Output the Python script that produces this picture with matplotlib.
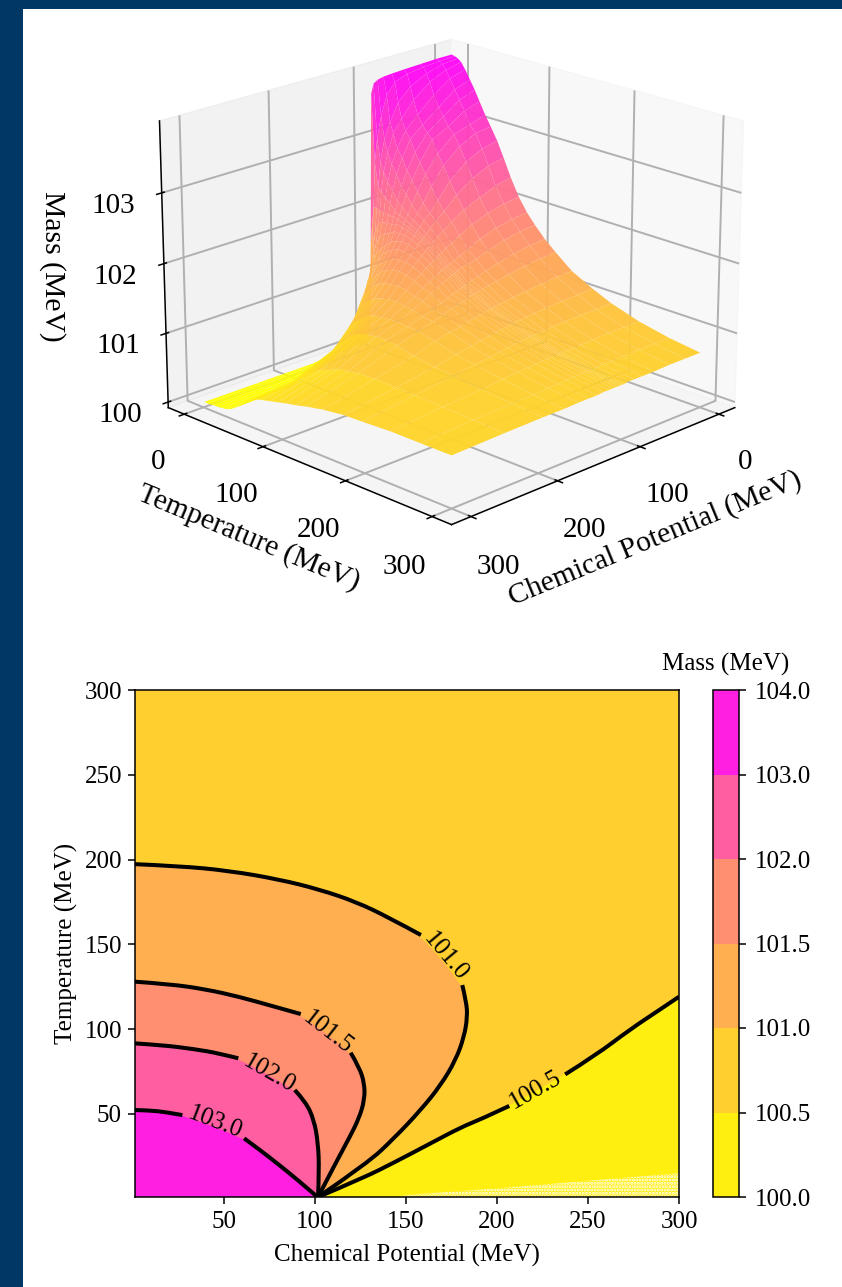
# Mass surface and contour map over chemical potential and temperature

import numpy as np
import matplotlib
matplotlib.use("Agg")
import matplotlib.pyplot as plt
from matplotlib.colors import BoundaryNorm, ListedColormap
from matplotlib.cm import ScalarMappable
from matplotlib.patches import Rectangle, PathPatch
from matplotlib.path import Path

plt.rcParams['font.family'] = ['Liberation Serif', 'DejaVu Serif']
plt.rcParams['axes.linewidth'] = 1.1
plt.rcParams['xtick.major.width'] = 1.1
plt.rcParams['ytick.major.width'] = 1.1
plt.rcParams['grid.linewidth'] = 1.4
plt.rcParams['hatch.linewidth'] = 1.5

nan = np.nan

# ---- surface table ----
grid_mu = [1, 20, 40, 60, 75, 85, 92, 97, 100, 102, 104, 107, 111, 116, 122, 130, 140, 152, 170, 195, 240, 300]
grid_T = [1, 5, 9, 13, 18, 24, 30, 36, 43, 50, 58, 66, 75, 85, 95, 105, 117, 130, 150, 175, 197, 230, 265, 300]
grid_mass = [
    [103.92, 103.92, 103.91, 103.90, 103.89, 103.88, 103.86, 103.82, 103.68, 101.50, 100.20, 100.08, 100.05, 100.04, 100.03, 100.02, 100.02, 100.01, 100.00, 100.00, 100.00, 100.00],
    [103.91, 103.90, 103.88, 103.85, 103.78, 103.63, 103.35, 103.04, 102.70, 102.05, 101.50, 101.00, 100.52, 100.38, 100.28, 100.20, 100.15, 100.10, 100.04, 100.02, 100.01, 100.00],
    [103.89, 103.87, 103.80, 103.68, 103.50, 103.25, 103.03, 102.72, 102.35, 102.05, 101.72, 101.42, 101.08, 100.78, 100.42, 100.27, 100.19, 100.14, 100.05, 100.03, 100.01, 100.00],
    [103.85, 103.80, 103.69, 103.50, 103.28, 103.10, 102.85, 102.58, 102.30, 102.03, 101.85, 101.56, 101.35, 101.10, 100.82, 100.46, 100.30, 100.21, 100.06, 100.04, 100.01, 100.01],
    [103.76, 103.69, 103.52, 103.30, 103.12, 102.90, 102.70, 102.45, 102.22, 102.02, 101.88, 101.70, 101.47, 101.25, 101.10, 100.78, 100.42, 100.30, 100.09, 100.05, 100.02, 100.01],
    [103.63, 103.55, 103.36, 103.17, 103.02, 102.78, 102.57, 102.35, 102.17, 102.01, 101.90, 101.75, 101.55, 101.38, 101.22, 101.05, 100.72, 100.42, 100.14, 100.08, 100.03, 100.02],
    [103.50, 103.42, 103.25, 103.08, 102.85, 102.62, 102.42, 102.22, 102.07, 102.00, 101.90, 101.78, 101.62, 101.50, 101.36, 101.20, 100.97, 100.65, 100.25, 100.12, 100.05, 100.03],
    [103.35, 103.28, 103.12, 103.00, 102.72, 102.50, 102.32, 102.15, 102.05, 101.99, 101.93, 101.83, 101.70, 101.57, 101.43, 101.26, 101.06, 100.82, 100.50, 100.20, 100.09, 100.06],
    [103.18, 103.10, 103.03, 102.82, 102.58, 102.36, 102.20, 102.07, 102.00, 101.95, 101.90, 101.83, 101.73, 101.62, 101.51, 101.36, 101.18, 100.97, 100.69, 100.35, 100.14, 100.12],
    [103.03, 103.00, 102.88, 102.67, 102.42, 102.22, 102.09, 102.01, 101.96, 101.92, 101.89, 101.83, 101.76, 101.66, 101.55, 101.41, 101.25, 101.05, 100.80, 100.51, 100.27, 100.20],
    [102.85, 102.80, 102.68, 102.48, 102.25, 102.10, 102.02, 101.95, 101.90, 101.87, 101.84, 101.80, 101.74, 101.66, 101.56, 101.45, 101.29, 101.12, 100.88, 100.62, 100.33, 100.28],
    [102.63, 102.58, 102.47, 102.30, 102.12, 102.02, 101.94, 101.88, 101.84, 101.82, 101.80, 101.76, 101.70, 101.64, 101.56, 101.46, 101.31, 101.15, 100.97, 100.72, 100.40, 100.34],
    [102.37, 102.32, 102.22, 102.12, 102.00, 101.91, 101.85, 101.80, 101.77, 101.75, 101.73, 101.70, 101.65, 101.60, 101.53, 101.44, 101.32, 101.18, 101.02, 100.83, 100.50, 100.37],
    [102.12, 102.09, 102.03, 101.94, 101.84, 101.77, 101.72, 101.68, 101.66, 101.64, 101.63, 101.60, 101.57, 101.53, 101.47, 101.40, 101.30, 101.19, 101.03, 100.90, 100.58, 100.40],
    [101.93, 101.90, 101.85, 101.77, 101.68, 101.62, 101.58, 101.55, 101.54, 101.53, 101.52, 101.50, 101.47, 101.44, 101.39, 101.33, 101.25, 101.17, 101.05, 100.93, 100.62, 100.43],
    [101.78, 101.76, 101.71, 101.64, 101.57, 101.54, 101.52, 101.50, 101.48, 101.47, 101.46, 101.44, 101.42, 101.39, 101.35, 101.30, 101.23, 101.15, 101.05, 100.95, 100.68, 100.46],
    [101.62, 101.60, 101.56, 101.50, 101.45, 101.41, 101.38, 101.36, 101.35, 101.34, 101.33, 101.32, 101.30, 101.28, 101.25, 101.21, 101.16, 101.10, 101.04, 100.95, 100.70, 100.49],
    [101.48, 101.46, 101.43, 101.39, 101.35, 101.33, 101.31, 101.30, 101.29, 101.28, 101.28, 101.27, 101.25, 101.23, 101.21, 101.18, 101.14, 101.09, 101.03, 100.93, 100.73, 100.53],
    [101.28, 101.27, 101.25, 101.22, 101.20, 101.18, 101.17, 101.16, 101.15, 101.15, 101.15, 101.14, 101.13, 101.12, 101.10, 101.08, 101.05, 101.02, 100.97, 100.87, 100.74, 100.58],
    [101.12, 101.11, 101.10, 101.09, 101.07, 101.06, 101.05, 101.05, 101.04, 101.04, 101.03, 101.03, 101.02, 101.01, 101.00, 100.98, 100.96, 100.93, 100.89, 100.82, 100.73, 100.62],
    [101.00, 100.99, 100.99, 100.98, 100.97, 100.96, 100.96, 100.95, 100.95, 100.95, 100.95, 100.94, 100.94, 100.93, 100.92, 100.91, 100.89, 100.87, 100.84, 100.79, 100.72, 100.63],
    [100.87, 100.87, 100.87, 100.86, 100.85, 100.85, 100.85, 100.84, 100.84, 100.84, 100.84, 100.84, 100.83, 100.83, 100.83, 100.82, 100.81, 100.80, 100.78, 100.75, 100.71, 100.65],
    [100.78, 100.78, 100.78, 100.77, 100.77, 100.77, 100.76, 100.76, 100.76, 100.76, 100.76, 100.76, 100.76, 100.75, 100.75, 100.75, 100.74, 100.73, 100.72, 100.71, 100.69, 100.65],
    [100.72, 100.72, 100.72, 100.71, 100.71, 100.71, 100.71, 100.70, 100.70, 100.70, 100.70, 100.70, 100.70, 100.70, 100.70, 100.69, 100.69, 100.69, 100.68, 100.68, 100.67, 100.65],
]

# ---- contour lines, nan marks the gap left for the label ----
c103_mu = [1, 9, 18.1, 27.3, nan, 61.2, 71.2, 80.4, 89.6, 101.5]
c103_T = [52.3, 52.1, 51.1, 49.3, nan, 35.6, 27.7, 19.9, 12, 1]

c102_mu = [1, 16.3, 34.6, 47.4, 58, nan, 89, 95, 99.6, 101.8, 102.4, 101.8]
c102_T = [91.6, 90.6, 88.1, 85.7, 82.8, nan, 64.1, 57.2, 46.4, 32.7, 16.9, 1]

c1015_mu = [1, 20, 40.1, 58.4, 76.7, 92.3, nan, 119.7, 124.3, 127.3, 127.3, 124.3, 118.8, 111.4, 101.8]
c1015_T = [128, 126.6, 123.5, 119.1, 113.6, 108.9, nan, 86.1, 77.8, 68, 58.2, 47.4, 35.6, 20.9, 1]

c101_mu = [1, 25.5, 52.9, 80.4, 102.4, 122.6, 140.9, 158.3, nan, 181, 183.2, 183.8, 182, 177.4, 169.2, 158.2, 143.5, 128.9, 101.8]
c101_T = [197.3, 196.2, 193.4, 188.3, 182.4, 175.1, 165.7, 155.5, nan, 126, 116.2, 107.3, 95.5, 81.8, 67, 52.3, 35.6, 20.9, 1]

c1005_mu = [101.8, 126.2, 144.4, 162.8, 181, 190.3, 206.8, nan, 237.5, 254.4, 272.7, 289.2, 300]
c1005_T = [1, 12, 21.8, 32.2, 42.5, 46.4, 54.7, nan, 73.3, 84.7, 99.5, 111.3, 119.1]

# where the mass falls under 100 the map is left speckled white
under_mu = [146, 150, 200, 250, 300]
under_T = [1, 2.2, 6.1, 10.6, 15]

label_text = ["103.0", "102.0", "101.5", "101.0", "100.5"]
label_mu = [45.6, 74.9, 106.9, 172, 221.4]
label_T = [44.8, 73.9, 97.9, 142.7, 64.1]
label_rot = [-21, -30, -38, -50, 29.5]

levels = [100, 100.5, 101, 101.5, 102, 103, 104]

W, H = 842, 1287
fig = plt.figure(figsize=(W/100, H/100), dpi=100, facecolor='white')

# page border
fig.add_artist(Rectangle((0, 1-9/H), 1, 9/H, transform=fig.transFigure, color='#003865', lw=0))
fig.add_artist(Rectangle((0, 0), 23/W, 1, transform=fig.transFigure, color='#003865', lw=0))

# ------ 3d surface ------
ax3 = fig.add_axes([78/W, 1-591/H, 730/W, 632/H], projection='3d')
X, Y = np.meshgrid(grid_mu, grid_T)
Z = np.array(grid_mass)
ax3.plot_surface(X, Y, Z, cmap='spring_r', vmin=100, vmax=104, rstride=1, cstride=1,
                 linewidth=0, antialiased=True, alpha=0.96)
ax3.view_init(elev=20, azim=45)
ax3.set_xticks([0, 100, 200, 300])
ax3.set_yticks([0, 100, 200, 300])
ax3.set_zticks([100, 101, 102, 103])
ax3.tick_params(labelsize=21)
ax3.tick_params(axis='x', pad=13)
ax3.tick_params(axis='y', pad=13)
ax3.tick_params(axis='z', pad=12)
ax3.set_xlabel("Chemical Potential (MeV)", fontsize=21.3, labelpad=22.5)
ax3.set_ylabel("Temperature (MeV)", fontsize=21.3, labelpad=22)
ax3.zaxis.set_rotate_label(False)
ax3.set_zlabel("Mass (MeV)", fontsize=21.3, labelpad=25, rotation=-90)

# ------ contour map ------
ax = fig.add_axes([134.5/W, 1-1197/H, 544.5/W, 507/H])
cmap = plt.get_cmap('spring_r')
mids = [0.5*(levels[i]+levels[i+1]) for i in range(len(levels)-1)]
band = [cmap((m-100)/4) for m in mids]

ax.set_facecolor(band[1])


def curve_part(mu, T):
    # quadratic curve that uses the read points as control points
    pts = np.column_stack([mu, T])
    verts = [pts[0]]
    codes = [Path.MOVETO]
    for i in range(1, len(pts)-1):
        end = pts[-1] if i == len(pts)-2 else 0.5*(pts[i]+pts[i+1])
        verts += [pts[i], end]
        codes += [Path.CURVE3, Path.CURVE3]
    if len(pts) == 2:
        verts.append(pts[1])
        codes.append(Path.LINETO)
    return verts, codes


def split(mu, T):
    mu = np.array(mu, dtype=float)
    T = np.array(T, dtype=float)
    gap = int(np.where(np.isnan(mu))[0][0])
    return (mu[:gap], T[:gap]), (mu[gap+1:], T[gap+1:])


def filled(mu, T, extra, col):
    mu = np.array(mu, dtype=float)
    T = np.array(T, dtype=float)
    ok = ~np.isnan(mu)
    verts, codes = curve_part(mu[ok], T[ok])
    verts = verts + [extra, verts[0]]
    codes = codes + [Path.LINETO, Path.CLOSEPOLY]
    ax.add_patch(PathPatch(Path(verts, codes), facecolor=col, edgecolor='none', lw=0))


filled(c1005_mu, c1005_T, (300, 1), band[0])
ax.fill_between(under_mu, 1, under_T, facecolor=band[0], edgecolor='white', hatch='.....', lw=0)
filled(c101_mu, c101_T, (1, 1), band[2])
filled(c1015_mu, c1015_T, (1, 1), band[3])
filled(c102_mu, c102_T, (1, 1), band[4])
filled(c103_mu, c103_T, (1, 1), band[5])

for c_mu, c_T in [(c103_mu, c103_T), (c102_mu, c102_T), (c1015_mu, c1015_T),
                  (c101_mu, c101_T), (c1005_mu, c1005_T)]:
    for m, t in split(c_mu, c_T):
        v, k = curve_part(m, t)
        ax.add_patch(PathPatch(Path(v, k), facecolor='none', edgecolor='black', lw=2.9,
                               capstyle='butt'))

for s, a, b, r in zip(label_text, label_mu, label_T, label_rot):
    ax.text(a, b, s, fontsize=18, rotation=r, rotation_mode='anchor', ha='center', va='center')

ax.set_xlim(1, 300)
ax.set_ylim(1, 300)
ax.set_xticks([50, 100, 150, 200, 250, 300])
ax.set_yticks([50, 100, 150, 200, 250, 300])
ax.tick_params(labelsize=18, length=5, pad=4)
ax.tick_params(axis='x', pad=5)
ax.set_xlabel("Chemical Potential (MeV)", fontsize=18, labelpad=8)
ax.set_ylabel("Temperature (MeV)", fontsize=18, labelpad=5)

# ------ colour bar ------
cax = fig.add_axes([712.5/W, 1-1197/H, 26/W, 507/H])
sm = ScalarMappable(norm=BoundaryNorm(levels, len(band)), cmap=ListedColormap(band))
cb = fig.colorbar(sm, cax=cax, spacing='uniform', ticks=levels, format='%.1f')
cb.ax.tick_params(labelsize=18, length=5, pad=6.5)
cax.set_title("Mass (MeV)", fontsize=18, pad=14)

fig.savefig("out.png", dpi=100)
